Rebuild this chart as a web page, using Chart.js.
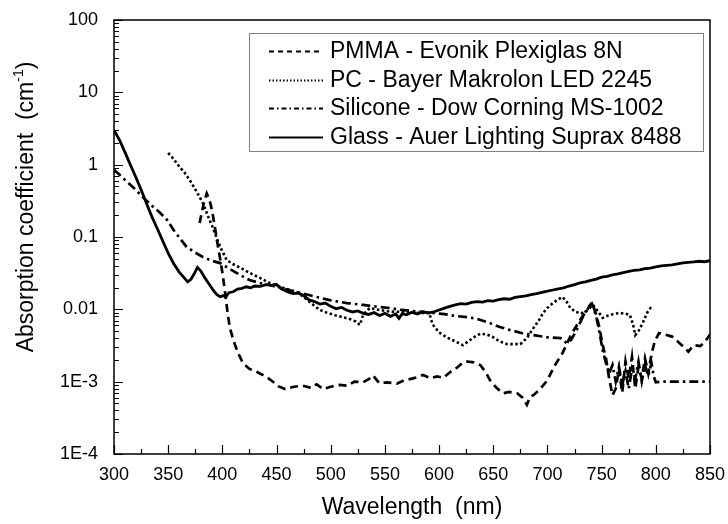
<!DOCTYPE html>
<html>
<head>
<meta charset="utf-8">
<script src="https://cdn.jsdelivr.net/npm/chart.js@4.4.1/dist/chart.umd.min.js"></script>
<style>
  html, body { margin: 0; padding: 0; background: #fff; }
  #wrap { width: 728px; height: 524px; }
</style>
</head>
<body>
<div id="wrap"><canvas id="grafico" width="728" height="524"></canvas></div>
<script>
// ── DATOS ─────────────────────────────────────────────────
const seriesLabels = [
  'PMMA - Evonik Plexiglas 8N',
  'PC - Bayer Makrolon LED 2245',
  'Silicone - Dow Corning MS-1002',
  'Glass - Auer Lighting Suprax 8488'
];

const pmmaNm = [379, 383, 385.6, 388, 390.4, 393, 396, 398.5, 400.6, 403, 405, 407, 410, 414, 419, 425, 432, 440, 447, 452, 458, 466, 474, 482, 487, 493, 500, 508, 515, 522, 530, 535, 539, 545, 552, 561, 568, 575, 580, 585, 592, 598, 604, 610, 617, 622, 626, 632, 638, 643, 647, 653, 659, 665, 672, 677, 681, 684, 687, 693, 700, 706, 714, 722, 730, 736, 741, 745, 748, 751, 754, 757, 760, 763, 766, 769, 772, 775, 778, 781, 784, 787, 790, 793, 796, 799, 803, 808, 815, 822, 826, 830, 835, 841, 845, 850];
const pmmaAbs = [0.156, 0.30, 0.40, 0.33, 0.236, 0.14, 0.073, 0.045, 0.028, 0.015, 0.0085, 0.0055, 0.0038, 0.0026, 0.0018, 0.0015, 0.00136, 0.00118, 0.00099, 0.00086, 0.00079, 0.00085, 0.00088, 0.00082, 0.00092, 0.00079, 0.00085, 0.00090, 0.00088, 0.00100, 0.00098, 0.00108, 0.00122, 0.00095, 0.00098, 0.00094, 0.00105, 0.00110, 0.00115, 0.00124, 0.00112, 0.00118, 0.00113, 0.00135, 0.00158, 0.00185, 0.0019, 0.00185, 0.0017, 0.00135, 0.00105, 0.00082, 0.00069, 0.00072, 0.00069, 0.00060, 0.00048, 0.00062, 0.00065, 0.00078, 0.00105, 0.0016, 0.0025, 0.0045, 0.0071, 0.0095, 0.0124, 0.0085, 0.0055, 0.0032, 0.0021, 0.0011, 0.00065, 0.0008, 0.0015, 0.0007, 0.0019, 0.0011, 0.0022, 0.0008, 0.0016, 0.0011, 0.0021, 0.0013, 0.0024, 0.0036, 0.0047, 0.0045, 0.0042, 0.0034, 0.0030, 0.0026, 0.0032, 0.0031, 0.0035, 0.0045];

const pcNm = [350, 355, 360, 365, 370, 376, 382, 387, 391, 395, 398, 404, 410, 416, 425, 435, 444, 455, 469, 477, 484, 490, 497, 504, 511, 518, 523, 527, 530, 536, 545, 555, 565, 575, 585, 591, 594, 600, 607, 615, 622, 628, 633, 638, 644, 650, 656, 663, 669, 675, 681, 687, 692, 696, 700, 705, 710, 714, 718, 721, 726, 731, 736, 742, 747, 751, 756, 762, 767, 772, 776, 779, 781, 784, 788, 792, 795, 798];
const pcAbs = [1.45, 1.2, 0.95, 0.78, 0.61, 0.43, 0.295, 0.19, 0.137, 0.095, 0.073, 0.048, 0.042, 0.038, 0.032, 0.027, 0.023, 0.020, 0.0173, 0.014, 0.0115, 0.0098, 0.0089, 0.0083, 0.0078, 0.0073, 0.0068, 0.0061, 0.0085, 0.0104, 0.0098, 0.0093, 0.0092, 0.0090, 0.0089, 0.0089, 0.0062, 0.0048, 0.0041, 0.0036, 0.0032, 0.0037, 0.0042, 0.0046, 0.0045, 0.0041, 0.0036, 0.0033, 0.0033, 0.0033, 0.0040, 0.0055, 0.0070, 0.0089, 0.0105, 0.0122, 0.0138, 0.0148, 0.0125, 0.0105, 0.0092, 0.0088, 0.0095, 0.0115, 0.0092, 0.0076, 0.0082, 0.0087, 0.0089, 0.0087, 0.0084, 0.0062, 0.0044, 0.0050, 0.0065, 0.0090, 0.0104, 0.0098];

const siliconeNm = [300, 310, 320, 327, 335, 342, 349, 355, 361, 367, 374, 382, 390, 398, 407, 416, 425, 435, 444, 455, 469, 484, 499, 515, 530, 545, 555, 565, 575, 585, 594, 605, 615, 626, 635, 645, 656, 665, 676, 687, 700, 712, 718, 722, 727, 732, 737, 741, 745, 748, 751, 754, 757, 760, 763, 766, 769, 772, 775, 778, 781, 784, 787, 790, 793, 796, 798, 800, 805, 850];
const siliconeAbs = [0.85, 0.62, 0.45, 0.35, 0.27, 0.22, 0.172, 0.125, 0.095, 0.073, 0.062, 0.053, 0.047, 0.0436, 0.036, 0.030, 0.0254, 0.023, 0.0217, 0.0195, 0.0173, 0.0152, 0.0134, 0.0122, 0.0115, 0.0108, 0.0104, 0.0098, 0.0095, 0.0092, 0.0089, 0.0086, 0.0081, 0.0078, 0.0074, 0.0066, 0.0057, 0.0052, 0.0047, 0.0044, 0.0041, 0.0040, 0.0034, 0.0038, 0.0052, 0.0075, 0.0105, 0.0120, 0.0080, 0.0048, 0.0027, 0.0018, 0.0013, 0.0017, 0.0010, 0.0016, 0.0009, 0.0014, 0.0008, 0.0015, 0.0011, 0.0019, 0.0010, 0.0017, 0.0012, 0.0018, 0.0012, 0.00098, 0.0010, 0.0010];

const glassNm = [300, 305, 310, 315, 320, 325, 330, 335, 340, 345, 350, 355, 360, 365, 368, 371, 374, 377, 380, 384, 388, 392, 395, 398, 401, 403, 406, 410, 414, 418, 422, 426, 430, 435, 440, 445, 450, 455, 460, 465, 470, 475, 480, 485, 490, 495, 500, 505, 510, 515, 520, 525, 530, 535, 540, 545, 550, 555, 560, 563, 566, 570, 575, 580, 585, 590, 595, 600, 605, 610, 615, 620, 625, 630, 635, 640, 645, 650, 655, 660, 665, 670, 675, 680, 685, 690, 695, 700, 705, 710, 715, 720, 725, 730, 735, 740, 745, 750, 755, 760, 765, 770, 775, 780, 785, 790, 795, 800, 805, 810, 815, 820, 825, 830, 835, 840, 845, 850];
const glassAbs = [3.0, 2.2, 1.5, 1.0, 0.68, 0.45, 0.29, 0.19, 0.13, 0.088, 0.060, 0.043, 0.033, 0.027, 0.024, 0.026, 0.031, 0.038, 0.034, 0.027, 0.022, 0.018, 0.016, 0.015, 0.0155, 0.0148, 0.017, 0.0175, 0.019, 0.0195, 0.0205, 0.0198, 0.021, 0.0208, 0.022, 0.0215, 0.022, 0.019, 0.0175, 0.0165, 0.0168, 0.0155, 0.0135, 0.0128, 0.0118, 0.0122, 0.0110, 0.0102, 0.0106, 0.0097, 0.0092, 0.0095, 0.0088, 0.0085, 0.0090, 0.0082, 0.0088, 0.0080, 0.0086, 0.0075, 0.0087, 0.0084, 0.0091, 0.0086, 0.0093, 0.0089, 0.0092, 0.0098, 0.0104, 0.0110, 0.0115, 0.0120, 0.0118, 0.0125, 0.0128, 0.0126, 0.0132, 0.0130, 0.0136, 0.0140, 0.0138, 0.0146, 0.0150, 0.0154, 0.0160, 0.0165, 0.0172, 0.0178, 0.0185, 0.0192, 0.0198, 0.0210, 0.0220, 0.0232, 0.0240, 0.0252, 0.0262, 0.0278, 0.0285, 0.0300, 0.0310, 0.0322, 0.0335, 0.0345, 0.0350, 0.0365, 0.0372, 0.0385, 0.0398, 0.0405, 0.0412, 0.0425, 0.0438, 0.0445, 0.0452, 0.0462, 0.0455, 0.0470];

const xTickValues = [300, 350, 400, 450, 500, 550, 600, 650, 700, 750, 800, 850];
const yTickValues = [1e-4, 1e-3, 0.01, 0.1, 1, 10, 100];
const yTickLabels = ['1E-4', '1E-3', '0.01', '0.1', '1', '10', '100'];

// ── ESTILOS ───────────────────────────────────────────────
const fuente = "'Liberation Sans', Arial, sans-serif";
const trazos = [[8, 5], [2.5, 2.5], [9, 4, 2.5, 4], []];
const trazosLeyenda = [[5, 4], [1.5, 2], [5, 3, 1.5, 3], []];
const grosores = [2.7, 2.6, 2.7, 2.8];

const puntos = (xs, ys) => xs.map((v, i) => ({ x: v, y: ys[i] }));
const series = [
  puntos(pmmaNm, pmmaAbs),
  puntos(pcNm, pcAbs),
  puntos(siliconeNm, siliconeAbs),
  puntos(glassNm, glassAbs)
];

// ── PLUGIN: marco, marcas interiores, título Y y leyenda ──
const marcoYLeyenda = {
  id: 'marcoYLeyenda',
  afterDraw(chart) {
    const { ctx, chartArea: a, scales: { x, y } } = chart;
    ctx.save();
    ctx.strokeStyle = '#000';
    ctx.lineWidth = 1.5;
    ctx.strokeRect(a.left, a.top, a.right - a.left, a.bottom - a.top);

    // marcas del eje X (mayores cada 50, menores cada 25)
    ctx.lineWidth = 1.2;
    ctx.beginPath();
    for (let v = xTickValues[0]; v <= xTickValues[xTickValues.length - 1]; v += 25) {
      const px = Math.round(x.getPixelForValue(v)) + 0.5;
      const len = (v % 50 === 0) ? 9 : 5;
      ctx.moveTo(px, a.bottom);
      ctx.lineTo(px, a.bottom - len);
    }
    // marcas del eje Y (décadas y 2..9)
    yTickValues.forEach((d, i) => {
      const py = Math.round(y.getPixelForValue(d)) + 0.5;
      ctx.moveTo(a.left, py);
      ctx.lineTo(a.left + 9, py);
      if (i < yTickValues.length - 1) {
        for (let k = 2; k <= 9; k++) {
          const pm = Math.round(y.getPixelForValue(k * d)) + 0.5;
          ctx.moveTo(a.left, pm);
          ctx.lineTo(a.left + 5, pm);
        }
      }
    });
    ctx.stroke();

    // título del eje Y con superíndice
    ctx.fillStyle = '#000';
    ctx.translate(27, 207);
    ctx.rotate(-Math.PI / 2);
    ctx.textBaseline = 'middle';
    ctx.textAlign = 'left';
    const base = 'Absorption coefficient  (cm';
    const sup = '-1';
    ctx.font = `23px ${fuente}`;
    const wBase = ctx.measureText(base).width;
    const wCierre = ctx.measureText(')').width;
    ctx.font = `14px ${fuente}`;
    const wSup = ctx.measureText(sup).width;
    let cx = -(wBase + wSup + wCierre) / 2;
    ctx.font = `23px ${fuente}`;
    ctx.fillText(base, cx, 0);
    cx += wBase;
    ctx.font = `14px ${fuente}`;
    ctx.fillText(sup, cx, -8);
    cx += wSup;
    ctx.font = `23px ${fuente}`;
    ctx.fillText(')', cx, 0);
    ctx.restore();

    // leyenda
    ctx.save();
    ctx.fillStyle = '#fff';
    ctx.fillRect(249, 33, 454, 118);
    ctx.strokeStyle = '#808080';
    ctx.lineWidth = 1;
    ctx.strokeRect(249.5, 33.5, 454, 118);
    ctx.font = `23px ${fuente}`;
    ctx.textBaseline = 'middle';
    ctx.textAlign = 'left';
    chart.data.datasets.forEach((ds, i) => {
      const yy = Math.round(51 + i * 28.7) + 0.5;
      ctx.strokeStyle = '#000';
      ctx.lineWidth = 2;
      ctx.setLineDash(trazosLeyenda[i]);
      ctx.beginPath();
      ctx.moveTo(269, yy);
      ctx.lineTo(323, yy);
      ctx.stroke();
      ctx.setLineDash([]);
      ctx.fillStyle = '#000';
      ctx.fillText(ds.label, 330, yy);
    });
    ctx.restore();
  }
};

// ── GRÁFICO ───────────────────────────────────────────────
window.addEventListener('DOMContentLoaded', () => {
  const ctx = document.getElementById('grafico').getContext('2d');
  new Chart(ctx, {
    type: 'line',
    data: {
      datasets: series.map((d, i) => ({
        label: seriesLabels[i],
        data: d,
        borderColor: '#000',
        borderWidth: grosores[i],
        borderDash: trazos[i],
        pointRadius: 0,
        tension: 0,
        fill: false
      }))
    },
    options: {
      responsive: false,
      animation: false,
      layout: { padding: { top: 20, right: 18, bottom: 0, left: 0 } },
      plugins: {
        legend: { display: false },
        tooltip: { enabled: false }
      },
      scales: {
        x: {
          type: 'linear',
          min: 300,
          max: 850,
          afterBuildTicks: (s) => { s.ticks = xTickValues.map(v => ({ value: v })); },
          afterFit: (s) => { s.height = 70; },
          // marcas transparentes: sólo separan las etiquetas del eje
          grid: { display: true, drawOnChartArea: false, drawTicks: true, tickLength: 10, tickColor: 'rgba(0,0,0,0)' },
          border: { display: false },
          ticks: { color: '#000', padding: 0, maxRotation: 0, autoSkip: false, font: { family: fuente, size: 18 } },
          title: { display: true, text: 'Wavelength  (nm)', color: '#000', padding: { top: 0, bottom: 3 }, font: { family: fuente, size: 23 } }
        },
        y: {
          type: 'logarithmic',
          min: 1e-4,
          max: 100,
          afterBuildTicks: (s) => { s.ticks = yTickValues.map(v => ({ value: v })); },
          afterFit: (s) => { s.width = 114; },
          grid: { display: false },
          border: { display: false },
          ticks: {
            color: '#000',
            padding: 8,
            autoSkip: false,
            font: { family: fuente, size: 18 },
            callback: (v) => {
              const i = yTickValues.findIndex(t => Math.abs(t - v) / t < 1e-6);
              return i >= 0 ? yTickLabels[i] : '';
            }
          }
        }
      }
    },
    plugins: [marcoYLeyenda]
  });
});
</script>
</body>
</html>
